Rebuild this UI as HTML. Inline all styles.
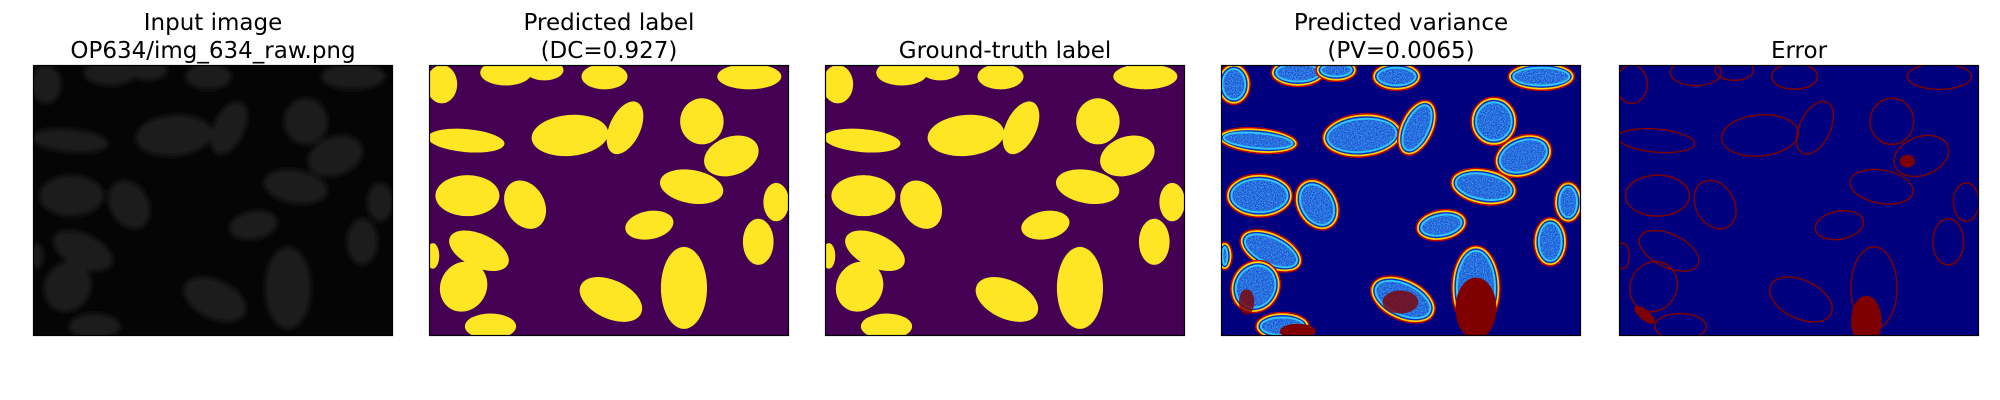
<!DOCTYPE html>
<html><head><meta charset="utf-8">
<style>
html,body{margin:0;padding:0;background:#fff;}
svg{display:block;}
text{font-family:"DejaVu Sans","Liberation Sans",sans-serif;font-size:23px;fill:#000;}
</style></head>
<body>
<svg id="fig" width="2000" height="400" viewBox="0 0 2000 400" xmlns="http://www.w3.org/2000/svg">
<defs>
<filter id="blur1"><feGaussianBlur stdDeviation="3"/></filter>
<filter id="noise" x="0" y="0" width="100%" height="100%">
<feTurbulence type="fractalNoise" baseFrequency="0.9" numOctaves="1" result="n"/>
<feColorMatrix in="n" type="matrix" values="0 0 0 0 0.1  0 0 0 0 0.55  0 0 0 0 1  0 0 0 1.6 -0.4" result="c"/>
<feComposite in="c" in2="SourceGraphic" operator="in"/>
</filter>
</defs>
</svg>
<script>
const panelTitles1 = ["Input image","Predicted label","Ground-truth label","Predicted variance","Error"];
const panelTitles2 = ["OP634/img_634_raw.png","(DC=0.927)","","(PV=0.0065)",""];
// nuclei: centre x, centre y, rx, ry, rotation (in 281x213 image units)
const nucCx = [10,60,90,137,250,29,110,153,213,236,30,75,205,271,172,257,39,27,142,48,199,3];
const nucCy = [15,6,4,9,9,59,55,49,44,71,102,109,95,107,125,138,145,173,183,204,174,149];
const nucRx = [12,20,15,18,25,30,30,12,17,22,25,15,25,10,19,12,25,18,26,20,18,5];
const nucRy = [15,10,8,10,10,9,16,22,18,15,16,20,13,15,11,18,13,20,15,10,32,10];
const nucRot = [0,0,0,0,0,5,-5,25,0,-20,0,-30,10,0,-10,0,25,30,25,0,0,0];
const svg = document.getElementById('fig');
const NS = 'http://www.w3.org/2000/svg';
const panelX = [33,429,825,1221,1619];
const PY = 65, PW = 360, PH = 271, S = 360/281;
function mk(tag, attrs, parent){const e=document.createElementNS(NS,tag);for(const k in attrs)e.setAttribute(k,attrs[k]);parent.appendChild(e);return e;}
const names=['input-image','predicted-label','ground-truth-label','predicted-variance','error-map'];
panelX.forEach((px,i)=>{
  const g = mk('g',{},svg);
  
  
  const cp = mk('clipPath',{id:'cp'+i},g);
  mk('rect',{x:px,y:PY,width:PW,height:PH},cp);
  const bgc = ['#050505','#440154','#440154','#00007f','#00007f'][i];
  const inner = mk('g',{'clip-path':'url(#cp'+i+')'},g);
  mk('rect',{x:px,y:PY,width:PW,height:PH,fill:bgc},inner);
  const ng = mk('g',i===0?{filter:'url(#blur1)'}:{},inner);
  for(let k=0;k<nucCx.length;k++){
    const cx=px+nucCx[k]*S, cy=PY+nucCy[k]*S, rx=nucRx[k]*S, ry=nucRy[k]*S;
    const tr='rotate('+nucRot[k]+' '+cx+' '+cy+')';
    let e;
    if(i===0) e=mk('ellipse',{cx,cy,rx,ry,transform:tr,fill:'#1f1f1f'},ng);
    else if(i<3) e=mk('ellipse',{cx,cy,rx,ry,transform:tr,fill:'#fde725'},ng);
    else if(i===3){
      mk('ellipse',{cx,cy,rx,ry,transform:tr,fill:'#0a30c0',stroke:'#ffd400','stroke-width':3},ng);
      mk('ellipse',{cx,cy,rx:Math.max(rx-4,1),ry:Math.max(ry-4,1),transform:tr,fill:'#0838c8',stroke:'#30c8ff','stroke-width':2},ng);
      e=mk('ellipse',{cx,cy,rx:Math.max(rx-5,1),ry:Math.max(ry-5,1),transform:tr,fill:'#fff',filter:'url(#noise)'},ng);
      mk('ellipse',{cx,cy,rx:rx+1,ry:ry+1,transform:tr,fill:'none',stroke:'#c00000','stroke-width':1.5},ng);
    } else e=mk('ellipse',{cx,cy,rx,ry,transform:tr,fill:'none',stroke:'#7f0000','stroke-width':1.5},ng);
    if(e){
    }
  }
  if(i===3){
    mk('ellipse',{cx:px+199*S,cy:PY+190*S,rx:16*S,ry:24*S,fill:'#800000'},inner);
    mk('ellipse',{cx:px+60*S,cy:PY+208*S,rx:14*S,ry:6*S,fill:'#800000'},inner);
    mk('ellipse',{cx:px+140*S,cy:PY+185*S,rx:14*S,ry:9*S,fill:'#800000',opacity:0.8},inner);
    mk('ellipse',{cx:px+20*S,cy:PY+185*S,rx:6*S,ry:10*S,fill:'#800000',opacity:0.8},inner);
  }
  if(i===4){
    mk('ellipse',{cx:px+193*S,cy:PY+200*S,rx:12*S,ry:20*S,fill:'#7f0000'},inner);
    mk('ellipse',{cx:px+225*S,cy:PY+75*S,rx:6*S,ry:5*S,fill:'#7f0000'},inner);
    mk('ellipse',{cx:px+20*S,cy:PY+195*S,rx:10*S,ry:4*S,fill:'#7f0000',transform:'rotate(40 '+(px+20*S)+' '+(PY+195*S)+')'},inner);
  }
  mk('rect',{x:px+0.5,y:PY+0.5,width:PW-1,height:PH-1,fill:'none',stroke:'#000','stroke-width':1.2},g);
  const cx = px+PW/2;
  if(panelTitles2[i]){
    const t1=mk('text',{x:cx,y:30,'text-anchor':'middle'},g); t1.textContent=panelTitles1[i];
    
    
    const t2=mk('text',{x:cx,y:58,'text-anchor':'middle'},g); t2.textContent=panelTitles2[i];
    
    
  } else {
    const t1=mk('text',{x:cx,y:58,'text-anchor':'middle'},g); t1.textContent=panelTitles1[i];
    
    
  }
});
</script>
</body></html>
